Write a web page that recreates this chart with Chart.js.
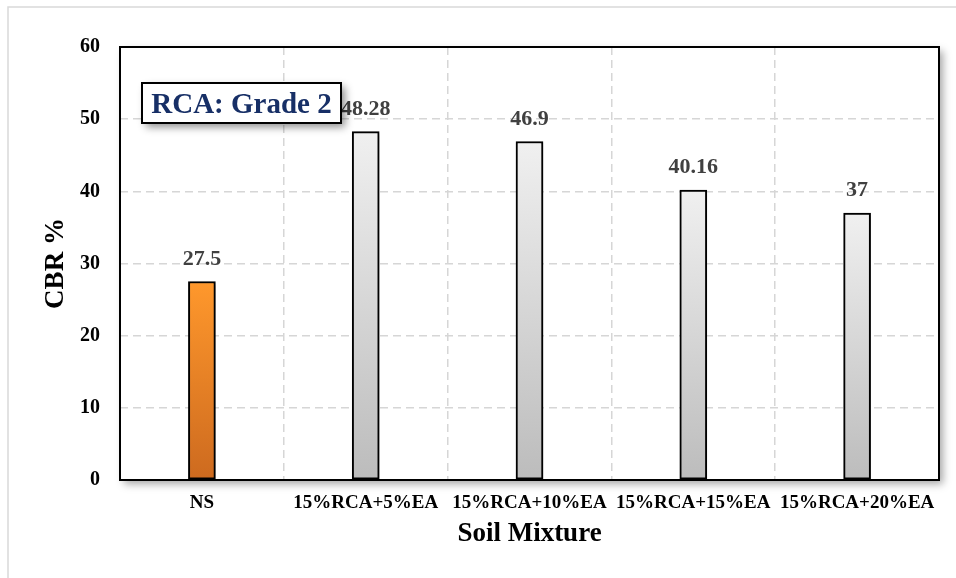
<!DOCTYPE html>
<html>
<head>
<meta charset="utf-8">
<script src="https://cdn.jsdelivr.net/npm/chart.js@4/dist/chart.umd.min.js"></script>
<style>
  html, body { margin: 0; padding: 0; background: #ffffff; }
  #wrap { width: 956px; height: 578px; position: relative; }
</style>
</head>
<body>
<div id="wrap"><canvas id="cbr" width="956" height="578"></canvas></div>
<script>
// Soil mixtures and their CBR results
const categories = ['NS', '15%RCA+5%EA', '15%RCA+10%EA', '15%RCA+15%EA', '15%RCA+20%EA'];
const cbrValues = [27.5, 48.28, 46.9, 40.16, 37];
const valueLabels = ['27.5', '48.28', '46.9', '40.16', '37'];
const yTicks = [0, 10, 20, 30, 40, 50, 60];
const boxTitle = 'RCA: Grade 2';
const xTitle = 'Soil Mixture';
const yTitle = 'CBR %';

const SERIF = '"Liberation Serif", "Times New Roman", serif';

// Vertical gradient per bar: light at the top, darker at the base
function barFill(ctx) {
  const chart = ctx.chart;
  const yScale = chart.scales.y;
  const area = chart.chartArea;
  if (!area || !yScale || ctx.dataIndex === undefined) return '#dddddd';
  const top = yScale.getPixelForValue(cbrValues[ctx.dataIndex]);
  const g = chart.ctx.createLinearGradient(0, top, 0, area.bottom);
  if (ctx.dataIndex === 0) {
    g.addColorStop(0, '#FF982C');
    g.addColorStop(1, '#CD6A1F');
  } else {
    g.addColorStop(0, '#F0F0F0');
    g.addColorStop(1, '#BCBCBC');
  }
  return g;
}

// Outer frame, plot panel shadow and border
const framePlugin = {
  id: 'framePlugin',
  beforeDraw(chart) {
    const c = chart.ctx, a = chart.chartArea;
    c.save();
    c.fillStyle = '#ffffff';
    c.fillRect(0, 0, chart.width, chart.height);
    c.strokeStyle = '#D9D9D9';
    c.lineWidth = 1.5;
    c.strokeRect(8, 7, chart.width + 20, chart.height + 20);
    c.shadowColor = 'rgba(0,0,0,0.35)';
    c.shadowBlur = 8;
    c.shadowOffsetX = 4;
    c.shadowOffsetY = 4;
    c.fillStyle = '#ffffff';
    c.fillRect(a.left, a.top, a.right - a.left, a.bottom - a.top);
    c.restore();
  },
  beforeDatasetsDraw(chart) {
    const c = chart.ctx, a = chart.chartArea;
    c.save();
    c.strokeStyle = '#000000';
    c.lineWidth = 2;
    c.strokeRect(a.left, a.top, a.right - a.left, a.bottom - a.top);
    c.restore();
  },
  beforeDatasetDraw(chart) {
    const c = chart.ctx;
    c.save();
    c.shadowColor = 'rgba(0,0,0,0.25)';
    c.shadowBlur = 4;
    c.shadowOffsetX = 2;
    c.shadowOffsetY = 2;
  },
  afterDatasetDraw(chart) {
    chart.ctx.restore();
  },
  afterDraw(chart) {
    const c = chart.ctx, a = chart.chartArea;
    // value labels above each bar
    const meta = chart.getDatasetMeta(0);
    c.save();
    c.font = 'bold 22px ' + SERIF;
    c.fillStyle = '#404040';
    c.textAlign = 'center';
    c.textBaseline = 'alphabetic';
    meta.data.forEach((bar, i) => {
      c.fillText(valueLabels[i], bar.x, bar.y - 17);
    });
    c.restore();

    // title box
    const bx = a.left + 22, by = a.top + 36, bw = 199, bh = 40;
    c.save();
    c.shadowColor = 'rgba(0,0,0,0.45)';
    c.shadowBlur = 8;
    c.shadowOffsetX = 4;
    c.shadowOffsetY = 4;
    c.fillStyle = '#ffffff';
    c.fillRect(bx, by, bw, bh);
    c.restore();
    c.save();
    c.strokeStyle = '#000000';
    c.lineWidth = 2;
    c.strokeRect(bx, by, bw, bh);
    c.font = 'bold 29px ' + SERIF;
    c.fillStyle = '#172F66';
    c.textAlign = 'center';
    c.textBaseline = 'alphabetic';
    c.fillText(boxTitle, bx + bw / 2, by + 30);
    c.restore();
  }
};

new Chart(document.getElementById('cbr'), {
  type: 'bar',
  data: {
    labels: categories,
    datasets: [{
      data: cbrValues,
      backgroundColor: barFill,
      borderColor: '#000000',
      borderWidth: 2,
      borderSkipped: false,
      barThickness: 27
    }]
  },
  options: {
    responsive: false,
    animation: false,
    devicePixelRatio: 1,
    layout: { padding: { left: 0, top: 47, right: 17, bottom: 0 } },
    plugins: {
      legend: { display: false },
      tooltip: { enabled: false }
    },
    scales: {
      x: {
        grid: { display: true, color: '#D6D6D6', lineWidth: 1.5, drawTicks: false, offset: true },
        border: { display: false, dash: [8, 5] },
        ticks: {
          color: '#000000',
          font: { family: SERIF, size: 19, weight: 'bold' },
          padding: 12,
          maxRotation: 0,
          autoSkip: false
        },
        title: {
          display: true,
          text: xTitle,
          color: '#000000',
          font: { family: SERIF, size: 27, weight: 'bold' },
          padding: { top: 0, bottom: 28 }
        },
        afterFit(s) { s.height = 98; }
      },
      y: {
        min: 0,
        max: 60,
        grid: { display: true, color: '#D6D6D6', lineWidth: 1.5, drawTicks: false },
        border: { display: false, dash: [8, 5] },
        ticks: {
          color: '#000000',
          font: { family: SERIF, size: 20, weight: 'bold' },
          padding: 20
        },
        afterBuildTicks(s) { s.ticks = yTicks.map(v => ({ value: v })); },
        title: {
          display: true,
          text: yTitle,
          color: '#000000',
          font: { family: SERIF, size: 27, weight: 'bold' },
          padding: { top: 40, bottom: 0 }
        },
        afterFit(s) { s.width = 120; }
      }
    }
  },
  plugins: [framePlugin]
});
</script>
</body>
</html>
